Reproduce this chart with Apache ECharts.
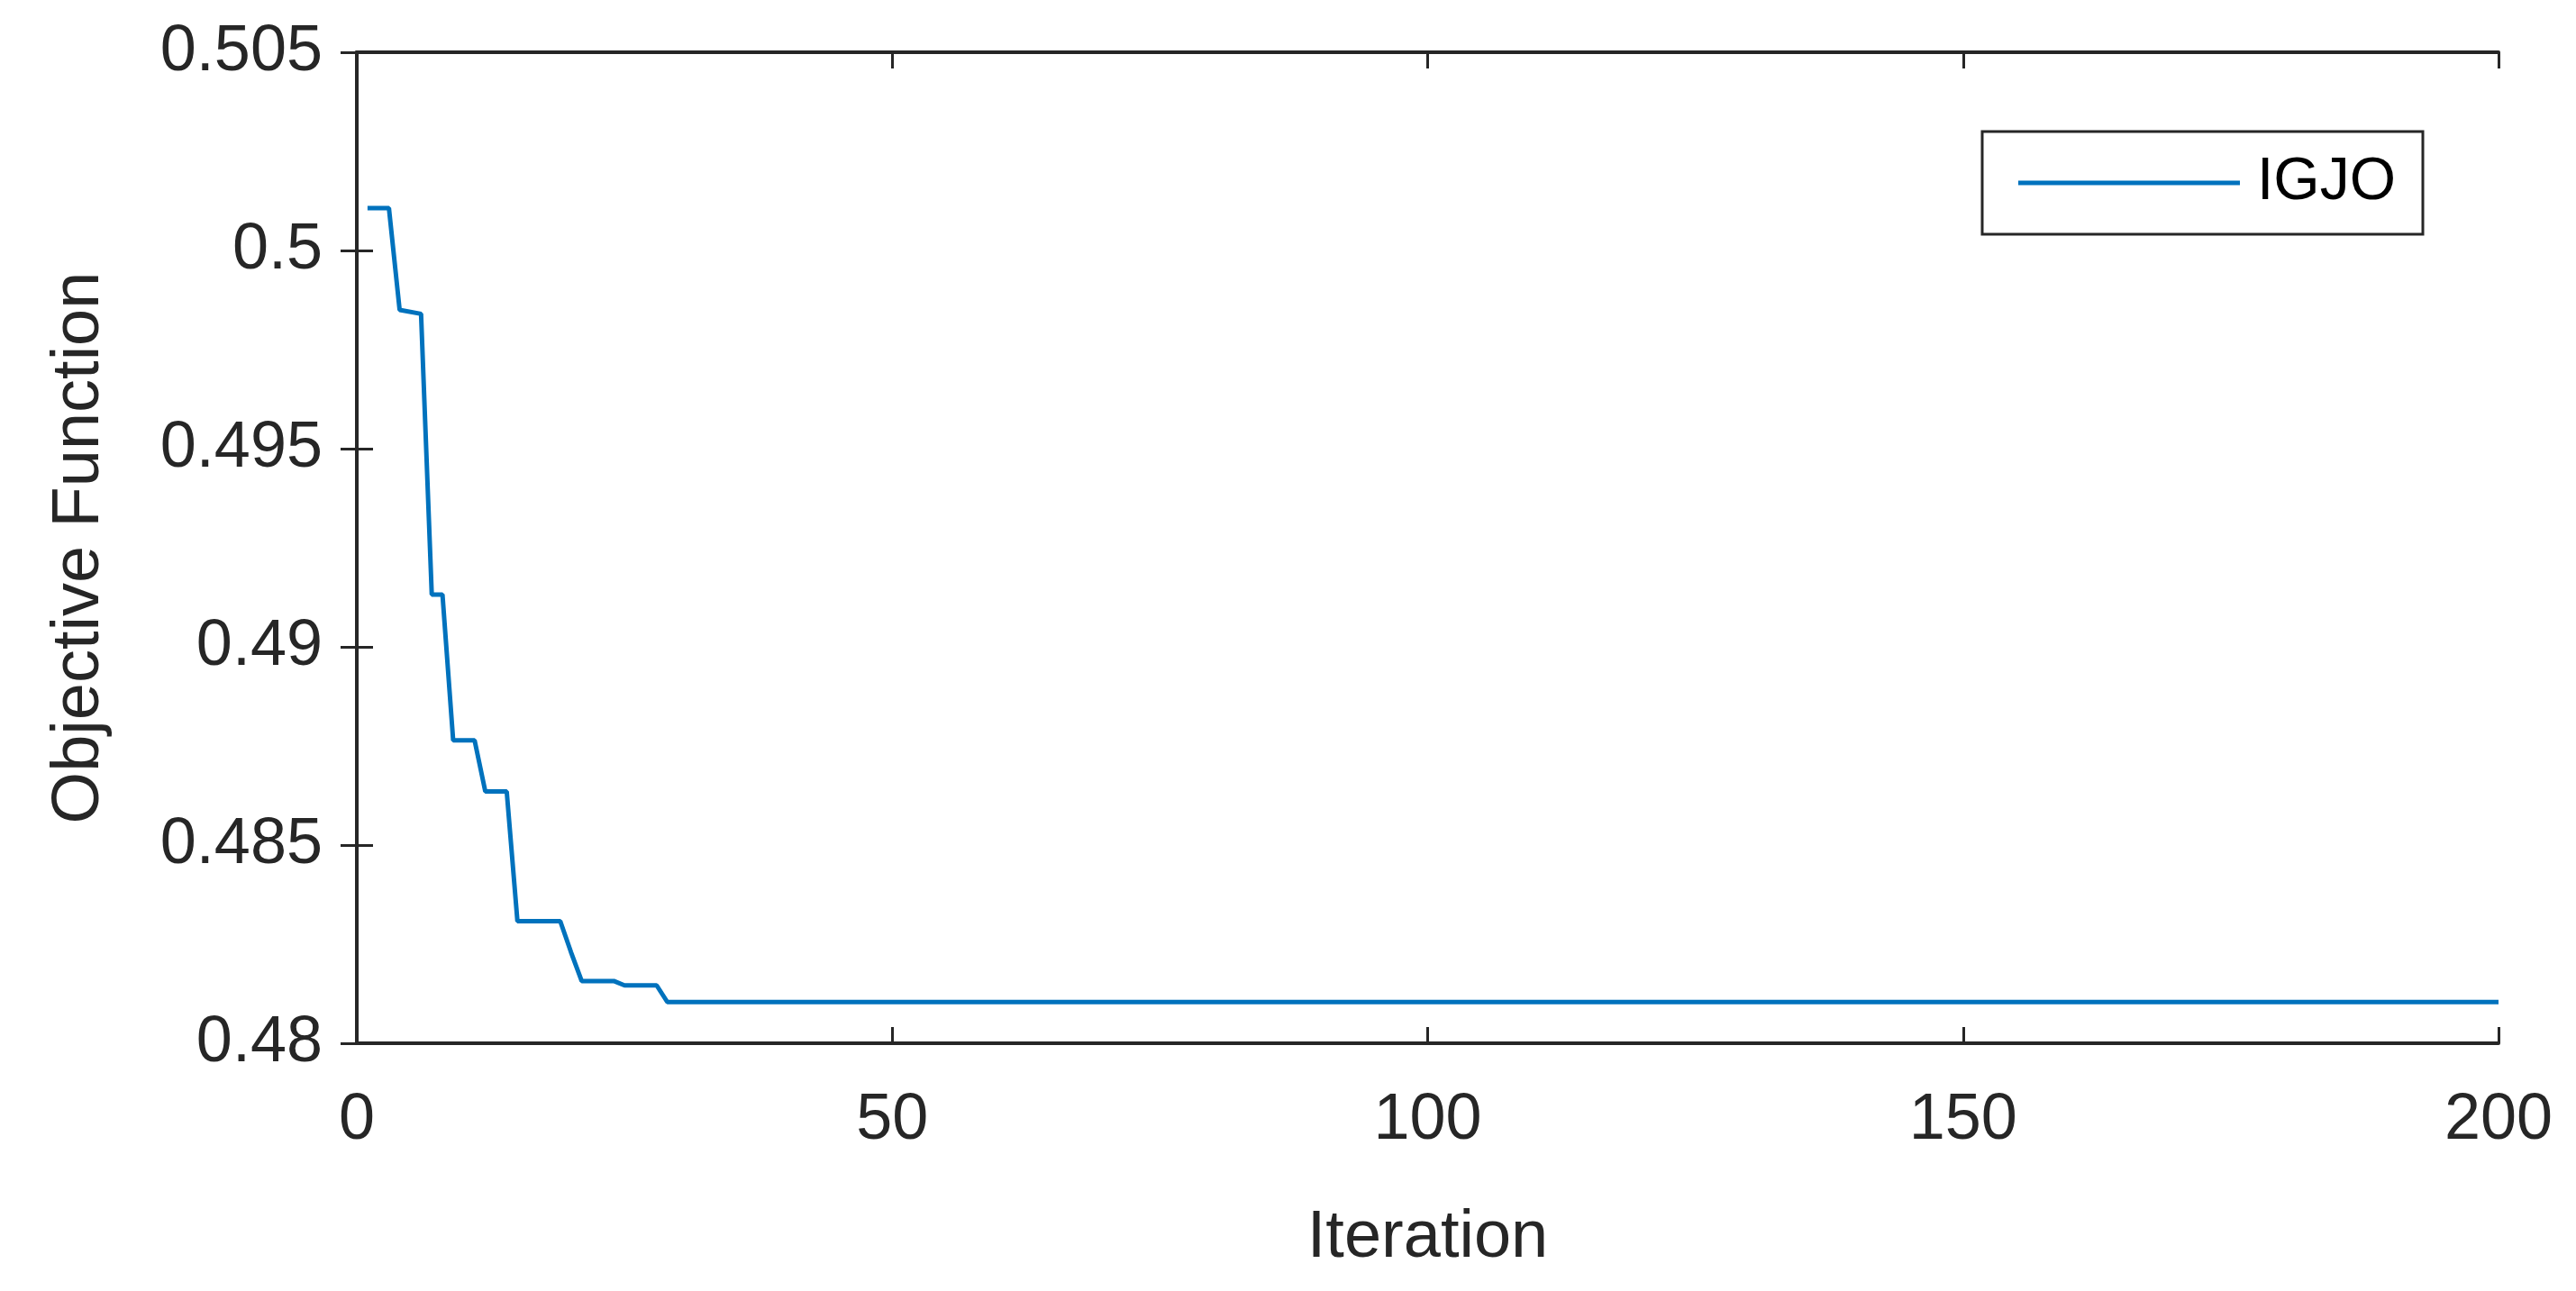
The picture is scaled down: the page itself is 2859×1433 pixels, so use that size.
<!DOCTYPE html>
<html>
<head>
<meta charset="UTF-8">
<title>IGJO convergence</title>
<script src="https://cdn.jsdelivr.net/npm/echarts@6/dist/echarts.min.js"></script>
<style>html,body{margin:0;padding:0;background:#fff}#chart{width:2859px;height:1433px}</style>
</head>
<body>
<div id="chart"></div>
<script>
// breakpoints of the convergence curve
var iterations = [1, 3, 4, 6, 7, 8, 9, 11, 12, 14, 15, 19, 20, 21, 24, 25, 28, 29, 200];
var igjo = [0.50107, 0.50107, 0.49850, 0.49840, 0.49132, 0.49132, 0.48764, 0.48764, 0.48635, 0.48635,
            0.48308, 0.48308, 0.48230, 0.48157, 0.48157, 0.48146, 0.48146, 0.48104, 0.48104];

var pts = [];
for (var i = 0; i < iterations.length; i++) pts.push([iterations[i], igjo[i]]);

var txt = '#262626';
var font = 'Liberation Sans';
var chart = echarts.init(document.getElementById('chart'));
chart.setOption({
    animation: false,
    textStyle: {fontFamily: font},
    grid: {left: 396, right: 86, top: 58, bottom: 275},
    legend: {
        right: 170, top: 146,
        data: ['IGJO'],
        icon: 'rect',
        itemWidth: 246, itemHeight: 5, itemGap: 0,
        padding: [24, 30, 24, 40],
        borderColor: txt, borderWidth: 3,
        textStyle: {fontSize: 66, color: '#000', fontFamily: font, padding: [0, 0, 0, 14]}
    },
    xAxis: [{
        type: 'value', position: 'bottom', min: 0, max: 200, interval: 50,
        name: 'Iteration', nameLocation: 'middle', nameGap: 180,
        nameTextStyle: {fontSize: 74, color: txt},
        axisLine: {lineStyle: {color: txt, width: 4}},
        axisTick: {inside: true, length: 18, lineStyle: {width: 3}},
        axisLabel: {fontSize: 72, color: txt, margin: 50},
        splitLine: {show: false}
    }, {
        type: 'value', position: 'top', min: 0, max: 200, interval: 50,
        axisLine: {show: true, lineStyle: {color: txt, width: 4}},
        axisTick: {inside: true, length: 18, lineStyle: {width: 3}},
        axisLabel: {show: false}, splitLine: {show: false}
    }],
    yAxis: [{
        type: 'value', position: 'left', min: 0.48, max: 0.505, interval: 0.005,
        name: 'Objective Function', nameLocation: 'middle', nameGap: 270,
        nameTextStyle: {fontSize: 74, color: txt},
        axisLine: {show: true, lineStyle: {color: txt, width: 4}},
        axisTick: {show: true, inside: true, length: 18, lineStyle: {width: 3}},
        axisLabel: {fontSize: 72, color: txt, margin: 38},
        splitLine: {show: false}
    }, {
        type: 'value', position: 'right', min: 0.48, max: 0.505, interval: 0.005,
        axisLine: {show: true, lineStyle: {color: txt, width: 4}},
        axisTick: {show: true, inside: true, length: 18, lineStyle: {width: 3}},
        axisLabel: {show: false}, splitLine: {show: false}
    }],
    series: [{
        name: 'IGJO', type: 'line', data: pts,
        xAxisIndex: 0, yAxisIndex: 0,
        showSymbol: false, symbol: 'none',
        itemStyle: {color: '#0072BD'},
        lineStyle: {color: '#0072BD', width: 5}
    }]
});
</script>
</body>
</html>
